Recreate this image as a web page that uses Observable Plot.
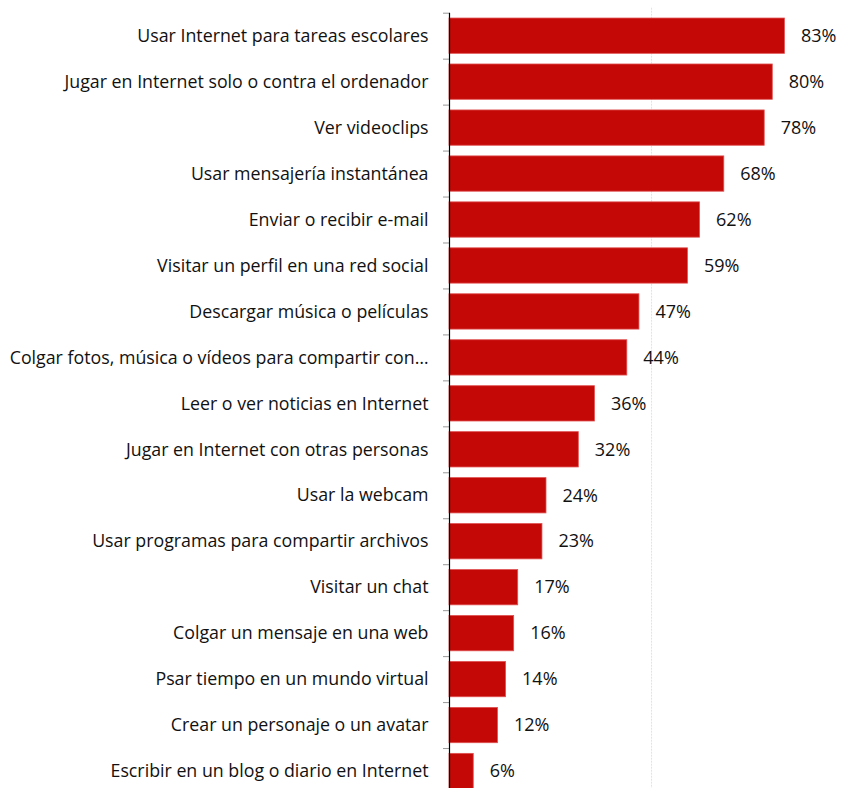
<!DOCTYPE html>
<html>
<head>
<meta charset="utf-8">
<script src="https://cdn.jsdelivr.net/npm/d3@7"></script>
<script src="https://cdn.jsdelivr.net/npm/@observablehq/plot@0.6"></script>
<style>
  html, body { margin: 0; padding: 0; background: #fff; }
  #chart svg { display: block; }
</style>
</head>
<body>
<div id="chart"></div>
<script>
const categories = [
  "Usar Internet para tareas escolares",
  "Jugar en Internet solo o contra el ordenador",
  "Ver videoclips",
  "Usar mensajería instantánea",
  "Enviar o recibir e-mail",
  "Visitar un perfil en una red social",
  "Descargar música o películas",
  "Colgar fotos, música o vídeos para compartir con…",
  "Leer o ver noticias en Internet",
  "Jugar en Internet con otras personas",
  "Usar la webcam",
  "Usar programas para compartir archivos",
  "Visitar un chat",
  "Colgar un mensaje en una web",
  "Psar tiempo en un mundo virtual",
  "Crear un personaje o un avatar",
  "Escribir en un blog o diario en Internet"
];
const values = [83, 80, 78, 68, 62, 59, 47, 44, 36, 32, 24, 23, 17, 16, 14, 12, 6];

const data = categories.map((c, i) => ({category: c, value: values[i]}));

const width = 843, height = 788, marginTop = 12.7, marginBottom = -6;
const step = (height - marginTop - marginBottom) / categories.length;

const chart = Plot.plot({
  width, height,
  marginLeft: 449, marginRight: 0, marginTop, marginBottom,
  style: {fontFamily: "'Open Sans', sans-serif", fontSize: "17.8px", color: "#111"},
  x: {domain: [0, 97.5], axis: null},
  y: {domain: categories, paddingInner: 0.232, paddingOuter: 0.116, round: false, label: null},
  marks: [
    Plot.ruleX([50], {stroke: "#e2e2e2", strokeDasharray: "2,1", insetTop: -5}),
    Plot.barX(data, {x: "value", y: "category", fill: "#c40806", stroke: "#e05050", strokeWidth: 0.8}),
    Plot.axisY({tickSize: 6, stroke: "#999", dy: -step / 2, tickFormat: () => ""}),
    Plot.axisY({tickSize: 0, tickPadding: 21, fontSize: 17.8, fill: "#111"}),
    Plot.ruleX([0], {stroke: "#000", strokeWidth: 1.2}),
    Plot.text(data, {x: "value", y: "category", text: d => d.value + "%", textAnchor: "start", dx: 16, fontSize: 18, fill: "#111"})
  ]
});
document.getElementById("chart").appendChild(chart);
</script>
</body>
</html>
